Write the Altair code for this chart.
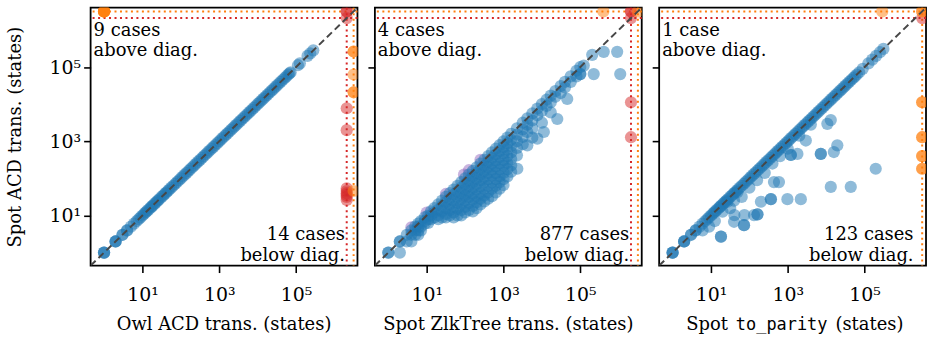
import altair as alt
import pandas as pd

# exponents (log10 of number of states); R/O = the two "failure" levels
R = 6.32
O = 6.5
LO, HI = -0.35, 6.6
TICKS = [10, 1000, 100000]

# ---------- panel 1: Owl ACD (x) vs Spot ACD (y) ----------
owl_diag = [0, 0, 0, 0.3, 0.3, 0.3, 0.48, 0.48, 0.6, 0.6, 0.7, 0.78, 0.85, 0.9, 0.95,
            1.0, 1.04, 1.08, 1.11, 1.15, 1.2, 1.23, 1.26, 1.3, 1.34, 1.38, 1.41, 1.45,
            1.5, 1.54, 1.58, 1.62, 1.66, 1.7, 1.75, 1.8, 1.85, 1.9, 1.95, 2.0, 2.05,
            2.1, 2.15, 2.2, 2.25, 2.3, 2.35, 2.4, 2.45, 2.5, 2.55, 2.6, 2.65, 2.7,
            2.75, 2.8, 2.85, 2.9, 2.95, 3.0, 3.05, 3.1, 3.15, 3.2, 3.25, 3.3, 3.35,
            3.4, 3.45, 3.5, 3.55, 3.6, 3.65, 3.7, 3.75, 3.8, 3.85, 3.9, 3.95, 4.0,
            4.05, 4.1, 4.15, 4.2, 4.25, 4.3, 4.35, 4.4, 4.45, 4.5, 4.55, 4.6, 4.65,
            4.7, 4.75, 4.8, 4.83, 4.86, 5.05, 5.1, 5.3, 5.37, 5.45]
owl_red = [(R, O), (R, O), (R, R), (R, 3.89), (R, 3.30), (R, 1.73), (R, 1.66),
           (R, 1.6), (R, 1.55), (R, 1.5), (R, 1.42)]
owl_orange = [(0, O), (0, O), (0, O), (0, O), (0, O), (0, O), (O, 5.42), (O, 5.42),
              (O, 4.80), (O, 4.32), (O, 4.32), (O, 1.66)]

# ---------- panel 2: Spot ZlkTree (x) vs Spot ACD (y) ----------
zlk_blue = [
    (0, 0), (0, 0), (0.3, 0.3), (0.3, 0.3), (0.3, 0),
    (0.48, 0.48), (0.48, 0.3),
    (0.6, 0.6), (0.6, 0.48), (0.6, 0.3),
    (0.7, 0.7), (0.7, 0.6), (0.7, 0.48),
    (0.78, 0.78), (0.78, 0.7), (0.78, 0.6), (0.78, 0.48),
    (0.85, 0.85), (0.85, 0.7), (0.85, 0.6),
    (0.95, 0.95), (0.95, 0.85), (0.95, 0.78),
    (1.04, 1.0), (1.04, 0.9), (1.04, 0.8),
    (1.11, 1.11), (1.11, 1.0), (1.11, 0.9),
    (1.2, 1.2), (1.2, 1.08), (1.2, 0.95),
    (1.3, 1.3), (1.3, 1.15), (1.3, 1.0), (1.3, 0.9),
    (1.4, 1.4), (1.4, 1.26), (1.4, 1.11), (1.4, 0.95),
    (1.5, 1.5), (1.5, 1.36), (1.5, 1.2), (1.5, 1.04), (1.5, 0.95),
    (1.6, 1.6), (1.6, 1.45), (1.6, 1.3), (1.6, 1.15), (1.6, 1.0),
    (1.7, 1.7), (1.7, 1.56), (1.7, 1.4), (1.7, 1.23), (1.7, 1.08), (1.7, 0.95),
    (1.8, 1.8), (1.8, 1.65), (1.8, 1.5), (1.8, 1.34), (1.8, 1.18), (1.8, 1.0),
    (1.9, 1.9), (1.9, 1.75), (1.9, 1.6), (1.9, 1.45), (1.9, 1.3), (1.9, 1.15), (1.9, 1.0),
    (2.0, 2.0), (2.0, 1.85), (2.0, 1.7), (2.0, 1.54), (2.0, 1.4), (2.0, 1.23), (2.0, 1.08),
    (2.1, 2.1), (2.1, 1.95), (2.1, 1.8), (2.1, 1.65), (2.1, 1.5), (2.1, 1.34), (2.1, 1.15),
    (2.2, 2.2), (2.2, 2.05), (2.2, 1.9), (2.2, 1.74), (2.2, 1.58), (2.2, 1.43), (2.2, 1.26), (2.2, 1.11),
    (2.3, 2.3), (2.3, 2.15), (2.3, 2.0), (2.3, 1.85), (2.3, 1.7), (2.3, 1.52), (2.3, 1.36), (2.3, 1.2),
    (2.4, 2.4), (2.4, 2.25), (2.4, 2.1), (2.4, 1.95), (2.4, 1.78), (2.4, 1.6), (2.4, 1.45), (2.4, 1.3),
    (2.5, 2.5), (2.5, 2.34), (2.5, 2.2), (2.5, 2.04), (2.5, 1.9), (2.5, 1.72), (2.5, 1.54), (2.5, 1.38),
    (2.6, 2.6), (2.6, 2.45), (2.6, 2.3), (2.6, 2.15), (2.6, 1.98), (2.6, 1.8), (2.6, 1.62), (2.6, 1.45),
    (2.7, 2.7), (2.7, 2.55), (2.7, 2.4), (2.7, 2.23), (2.7, 2.08), (2.7, 1.9), (2.7, 1.72), (2.7, 1.52),
    (2.8, 2.8), (2.8, 2.65), (2.8, 2.48), (2.8, 2.32), (2.8, 2.15), (2.8, 1.98), (2.8, 1.8), (2.8, 1.62),
    (2.9, 2.9), (2.9, 2.74), (2.9, 2.58), (2.9, 2.4), (2.9, 2.24), (2.9, 2.06), (2.9, 1.9), (2.9, 1.72),
    (3.0, 3.0), (3.0, 2.85), (3.0, 2.68), (3.0, 2.5), (3.0, 2.34), (3.0, 2.15), (3.0, 1.98), (3.0, 1.82),
    (3.1, 3.1), (3.1, 2.95), (3.1, 2.78), (3.1, 2.6), (3.1, 2.42), (3.1, 2.25), (3.1, 2.05),
    (3.2, 3.2), (3.2, 3.04), (3.2, 2.88), (3.2, 2.7), (3.2, 2.52), (3.2, 2.35), (3.2, 2.18),
    (3.35, 3.35), (3.35, 3.18), (3.35, 3.0), (3.35, 2.82), (3.35, 2.62), (3.36, 2.26),
    (3.5, 3.5), (3.5, 3.32), (3.5, 3.12), (3.5, 2.92),
    (3.62, 3.62), (3.62, 3.45), (3.62, 3.25), (3.62, 2.89),
    (3.75, 3.75), (3.75, 3.56), (3.75, 3.35), (3.75, 3.1),
    (3.88, 3.88), (3.88, 3.7), (3.88, 3.07),
    (4.0, 4.0), (4.0, 3.82), (4.05, 3.25), (4.0, 3.5),
    (4.12, 4.12), (4.12, 3.95),
    (4.23, 4.23), (4.23, 4.05), (4.23, 3.78),
    (4.35, 4.35), (4.35, 4.2), (4.4, 3.6),
    (4.49, 4.49), (4.49, 4.3),
    (4.6, 4.6), (4.6, 4.45), (4.66, 4.14),
    (4.75, 4.75), (4.75, 4.6),
    (4.9, 4.9), (4.9, 4.75),
    (5.0, 5.0), (5.0, 4.81), (5.0, 4.81), (5.09, 5.04),
    (5.31, 5.33), (5.35, 4.81), (5.61, 5.41), (5.96, 5.41), (6.04, 4.81),
]
zlk_purple = [(0.6, 0.68), (1.0, 1.08), (1.5, 1.58), (1.97, 2.1), (2.1, 2.22), (2.4, 2.5)]
zlk_red = [(R, O), (R, O), (R, R), (R, 4.05), (R, 3.11)]
zlk_orange = [(5.6, O), (O, O)]

# ---------- panel 3: Spot to_parity (x) vs Spot ACD (y) ----------
par_diag = [0, 0, 0, 0.3, 0.3, 0.3, 0.48, 0.48, 0.6, 0.6, 0.7, 0.78, 0.85, 0.9, 0.95,
            1.0, 1.04, 1.08, 1.11, 1.15, 1.2, 1.23, 1.26, 1.3, 1.34, 1.38, 1.41, 1.45,
            1.5, 1.54, 1.58, 1.62, 1.66, 1.7, 1.75, 1.8, 1.85, 1.9, 1.95, 2.0, 2.05,
            2.1, 2.15, 2.2, 2.25, 2.3, 2.35, 2.4, 2.45, 2.5, 2.55, 2.6, 2.65, 2.7,
            2.75, 2.8, 2.85, 2.9, 2.95, 3.0, 3.05, 3.1, 3.15, 3.2, 3.25, 3.3, 3.35,
            3.4, 3.45, 3.5, 3.55, 3.6, 3.65, 3.7, 3.75, 3.8, 3.85, 3.9, 3.95, 4.0,
            4.05, 4.1, 4.15, 4.2, 4.25, 4.3, 4.35, 4.4, 4.45, 4.5, 4.55, 4.6, 4.65,
            4.7, 4.75, 4.8, 4.86, 4.95, 5.1, 5.2, 5.3, 5.4, 5.49]
par_below = [(0.78, 0.6), (0.95, 0.7), (1.1, 0.85), (1.3, 1.1), (1.5, 1.2), (1.6, 1.4),
             (1.8, 1.5), (2.0, 1.75), (2.2, 1.95), (2.4, 2.15), (2.6, 2.4), (2.8, 2.6),
             (3.0, 2.8), (3.3, 3.15), (3.6, 3.45), (4.03, 3.47), (4.12, 3.57), (4.29, 2.89),
             (4.2, 2.71), (3.47, 3.02), (3.08, 2.63), (3.08, 2.63), (3.86, 2.66), (3.86, 2.66),
             (3.25, 2.66), (5.29, 2.26), (4.12, 1.77), (4.64, 1.77), (2.56, 1.44), (2.56, 1.44),
             (2.99, 1.44), (3.34, 1.44), (2.64, 1.9), (2.77, 1.9), (2.21, 1.03), (2.21, 1.03),
             (2.12, 1.01), (1.86, 0.74), (1.86, 0.74), (1.26, 0.43), (1.26, 0.43), (1.6, 0.83),
             (2.3, 1.37), (1.69, 1.63), (1.43, 1.37), (1.61, 1.01), (1.87, 1.01)]
par_red = [(O, R)]
par_orange = [(5.46, O), (O, O), (O, O), (O, 4.05), (O, 4.05), (O, 3.11), (O, 3.11),
              (O, 2.6), (O, 2.6), (O, 2.26), (O, 2.26)]

COLORS = {"purple": "#9467bd", "blue": "#1f77b4", "red": "#d62728", "orange": "#ff7f0e"}
W, H = 268, 259
FONT = "DejaVu Serif"


def points_df(groups):
    rows = []
    for cat, pts in groups:
        for a, b in pts:
            rows.append({"x": 10 ** a, "y": 10 ** b, "c": cat})
    return pd.DataFrame(rows)


LBL = "'10' + (datum.value == 10 ? '\u00b9' : datum.value == 1000 ? '\u00b3' : '\u2075')"


def panel(df, hlines, vlines, above, below, xtitle_layers, first):
    scale = alt.Scale(type="log", domain=[10 ** LO, 10 ** HI], nice=False)
    xax = alt.Axis(values=TICKS, labelExpr=LBL, title=None, grid=False, domain=False,
                   tickSize=7, tickWidth=1.6, labelPadding=13)
    if first:
        yax = alt.Axis(values=TICKS, labelExpr=LBL, title="Spot ACD trans. (states)", grid=False,
                       domain=False, tickSize=7, tickWidth=1.6, labelPadding=3, titlePadding=24.5)
    else:
        yax = alt.Axis(values=TICKS, labels=False, title=None, grid=False, domain=False,
                       tickSize=7, tickWidth=1.6)
    X = alt.X("x:Q", scale=scale, axis=xax)
    Y = alt.Y("y:Q", scale=scale, axis=yax)

    hdf = pd.DataFrame({"y": [10 ** v for v, _ in hlines], "c": [c for _, c in hlines]})
    vdf = pd.DataFrame({"x": [10 ** v for v, _ in vlines], "c": [c for _, c in vlines]})
    cscale = alt.Scale(domain=list(COLORS.keys()), range=list(COLORS.values()))

    hrule = alt.Chart(hdf).mark_rule(strokeDash=[2, 3.5], strokeWidth=2).encode(
        y=Y, color=alt.Color("c:N", scale=cscale, legend=None))
    vrule = alt.Chart(vdf).mark_rule(strokeDash=[2, 3.5], strokeWidth=2).encode(
        x=X, color=alt.Color("c:N", scale=cscale, legend=None))
    pts = alt.Chart(df).mark_circle(size=150, opacity=0.5, clip=True).encode(
        x=X, y=Y, color=alt.Color("c:N", scale=cscale, legend=None))
    diag = alt.Chart(pd.DataFrame({"x": [10 ** LO, 10 ** HI], "y": [10 ** LO, 10 ** HI]})).mark_line(
        strokeDash=[7, 4], strokeWidth=2, color="#474747", clip=True).encode(x=X, y=Y)
    tdf = pd.DataFrame({"a": [0]})
    t_above = alt.Chart(tdf).mark_text(font=FONT, fontSize=18, lineBreak="\n", lineHeight=21,
                                       align="left", baseline="alphabetic", color="black").encode(
        x=alt.value(3), y=alt.value(28), text=alt.value(above))
    t_below = alt.Chart(tdf).mark_text(font=FONT, fontSize=18, lineBreak="\n", lineHeight=21,
                                       align="right", baseline="alphabetic", color="black").encode(
        x=alt.value(W - 12.5), y=alt.value(233), text=alt.value(below))
    layers = [hrule, vrule, pts, diag, t_above, t_below]
    for txt, xpos, align, font, fs in xtitle_layers:
        layers.append(alt.Chart(tdf).mark_text(font=font, fontSize=fs, align=align,
                                               baseline="alphabetic", color="black").encode(
            x=alt.value(xpos), y=alt.value(324), text=alt.value(txt)))
    return alt.layer(*layers).properties(width=W, height=H)


p1 = panel(points_df([("blue", list(zip(owl_diag, owl_diag))), ("red", owl_red), ("orange", owl_orange)]),
           [(O, "orange"), (R, "red")], [(R, "red"), (O, "orange")],
           "9 cases\nabove diag.", "14 cases\nbelow diag.",
           [("Owl ACD trans. (states)", W / 2, "center", FONT, 18)], True)
p2 = panel(points_df([("purple", zlk_purple), ("blue", zlk_blue), ("red", zlk_red), ("orange", zlk_orange)]),
           [(O, "orange"), (R, "red")], [(R, "red"), (O, "orange")],
           "4 cases\nabove diag.", "877 cases\nbelow diag.",
           [("Spot ZlkTree trans. (states)", W / 2, "center", FONT, 18)], False)
p3 = panel(points_df([("blue", list(zip(par_diag, par_diag)) + par_below), ("red", par_red),
                      ("orange", par_orange)]),
           [(O, "orange"), (R, "red")], [(O, "orange")],
           "1 case\nabove diag.", "123 cases\nbelow diag.",
           [("Spot", 69, "right", FONT, 18), ("to_parity", 123, "center", "DejaVu Sans Mono", 17),
            ("(states)", 177, "left", FONT, 18)], False)

chart = alt.hconcat(p1, p2, p3, spacing=6.5).properties(
    padding={"left": 5, "top": 5, "right": 2, "bottom": 0}
).configure_view(stroke="black", strokeWidth=1.8).configure_axis(
    labelFont=FONT, labelFontSize=19, labelColor="black", tickColor="black",
    titleFont=FONT, titleFontSize=18, titleColor="black", titleFontWeight="normal"
)

chart.save("out.html", embed_options={"renderer": "svg", "actions": False})
